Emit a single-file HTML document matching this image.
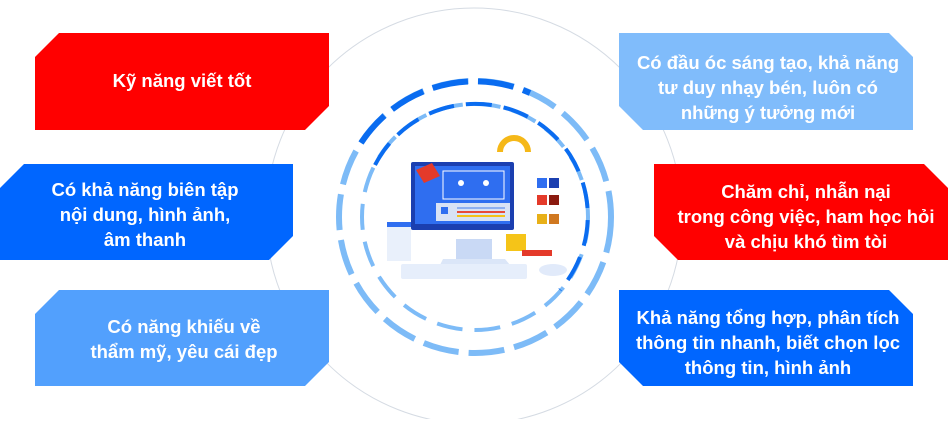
<!DOCTYPE html>
<html><head><meta charset="utf-8"><style>
body{margin:0;width:948px;height:419px;background:#fff;overflow:hidden;font-family:"Liberation Sans",sans-serif}
</style></head><body>
<svg width="948" height="419" viewBox="0 0 948 419" xmlns="http://www.w3.org/2000/svg">
<circle cx="474" cy="216" r="208" fill="none" stroke="#d5dbe3" stroke-width="1"/>
<polygon points="59,33 329,33 329,106 305,130 35,130 35,57" fill="#ff0000"/>
<polygon points="24,164 293,164 293,236 269,260 0,260 0,188" fill="#0066ff"/>
<polygon points="59,290 329,290 329,362 305,386 35,386 35,314" fill="#52a0fd"/>
<polygon points="619,33 889,33 913,57 913,130 643,130 619,106" fill="#80bcfb"/>
<polygon points="654,164 924,164 948,188 948,260 678,260 654,236" fill="#ff0000"/>
<polygon points="619,290 889,290 913,314 913,386 643,386 619,362" fill="#0066ff"/>
<g fill="none" stroke-linecap="butt">
<circle cx="475" cy="217" r="136" stroke="#7dbbf7" stroke-width="6" stroke-dasharray="36 10"/>
<path d="M 361 143 A 136 136 0 0 1 530 93" stroke="#0a6cf0" stroke-width="6" stroke-dasharray="36 10"/>
<circle cx="475" cy="217" r="113" stroke="#7dbbf7" stroke-width="4" stroke-dasharray="26 12"/>
<path d="M 375 165 A 113 113 0 0 1 570 155 A 113 113 0 0 1 560 290" stroke="#0a6cf0" stroke-width="4" stroke-dasharray="26 12"/>
</g>
<path d="M 500 152 A 14 14 0 0 1 528 152" fill="none" stroke="#f5b818" stroke-width="6"/>
<rect x="411" y="162" width="103" height="68" rx="2" fill="#1b3fb0"/>
<rect x="415" y="166" width="95" height="58" fill="#2f6ef0"/>
<rect x="443" y="171" width="61" height="28" fill="none" stroke="#fff" stroke-width="1"/>
<circle cx="461" cy="183" r="3" fill="#fff"/><circle cx="486" cy="183" r="3" fill="#fff"/>
<rect x="436" y="203" width="74" height="18" fill="#d8e2f5"/>
<rect x="441" y="207" width="7" height="7" fill="#2f6ef0"/>
<rect x="457" y="207" width="48" height="2" fill="#8fb0f0"/><rect x="457" y="211" width="48" height="2" fill="#e84a3a"/><rect x="457" y="215" width="48" height="2" fill="#f3c21a"/>
<polygon points="416,170 432,163 440,176 424,183" fill="#e43a2a"/>
<rect x="456" y="239" width="36" height="20" fill="#c9d9f5"/>
<polygon points="443,259 505,259 510,265 440,265" fill="#dbe6f8"/>
<rect x="401" y="264" width="126" height="15" rx="2" fill="#e6eefb"/>
<rect x="387" y="223" width="24" height="38" fill="#e9f0fb"/>
<rect x="387" y="222" width="24" height="5" fill="#2f6ef0"/>
<rect x="537" y="178" width="10" height="10" fill="#2f6ef0"/><rect x="549" y="178" width="10" height="10" fill="#1b3fb0"/>
<rect x="537" y="195" width="10" height="10" fill="#e43a2a"/><rect x="549" y="195" width="10" height="10" fill="#8b1a10"/>
<rect x="537" y="214" width="10" height="10" fill="#e8b018"/><rect x="549" y="214" width="10" height="10" fill="#d07820"/>
<rect x="506" y="234" width="20" height="17" fill="#f5c418"/>
<rect x="522" y="250" width="30" height="6" fill="#e43a2a"/>
<ellipse cx="553" cy="270" rx="14" ry="6" fill="#e1eafa"/>
<g fill="#fff" font-family="Liberation Sans, sans-serif" font-weight="bold" font-size="18.5" text-anchor="middle">
<text x="182" y="87">Kỹ năng viết tốt</text>
<text x="145" y="196">Có khả năng biên tập</text>
<text x="145" y="221">nội dung, hình ảnh,</text>
<text x="145" y="246">âm thanh</text>
<text x="184" y="333">Có năng khiếu về</text>
<text x="184" y="358">thẩm mỹ, yêu cái đẹp</text>
<text x="768" y="69">Có đầu óc sáng tạo, khả năng</text>
<text x="768" y="94">tư duy nhạy bén, luôn có</text>
<text x="768" y="119">những ý tưởng mới</text>
<text x="806" y="198">Chăm chỉ, nhẫn nại</text>
<text x="806" y="223">trong công việc, ham học hỏi</text>
<text x="806" y="248">và chịu khó tìm tòi</text>
<text x="768" y="324">Khả năng tổng hợp, phân tích</text>
<text x="768" y="349">thông tin nhanh, biết chọn lọc</text>
<text x="768" y="374">thông tin, hình ảnh</text>
</g>
</svg>
</body></html>
